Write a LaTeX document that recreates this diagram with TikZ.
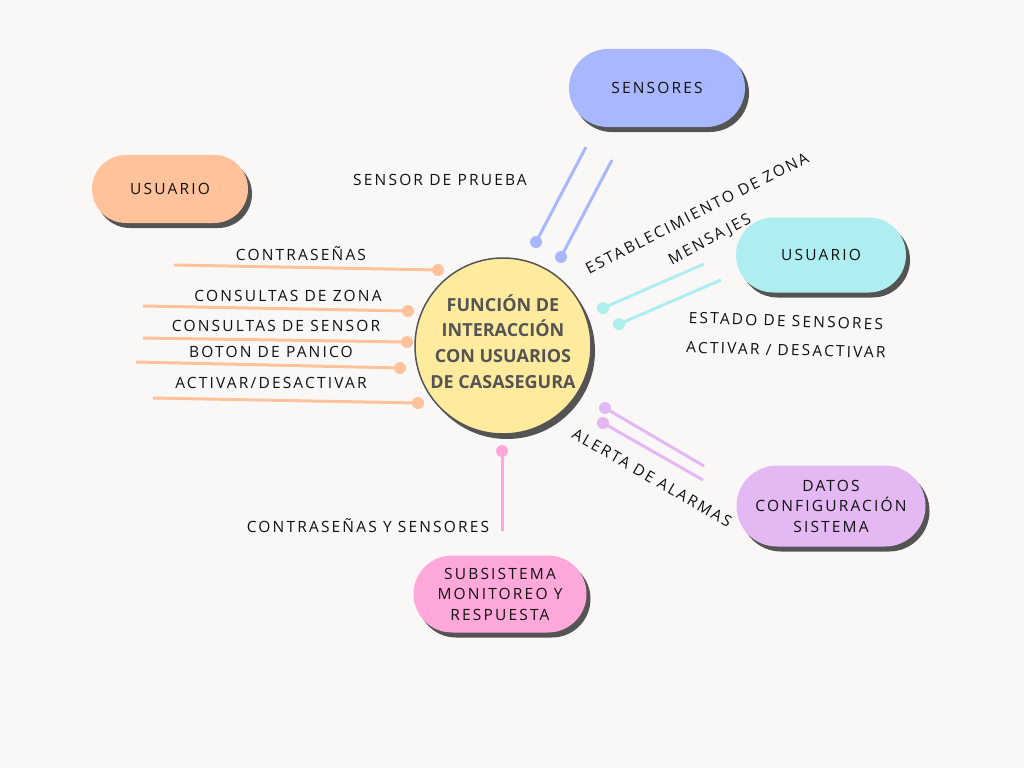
\documentclass[tikz,border=0pt]{standalone}
\usepackage{fontspec}
\setmainfont{Open Sans}
\newfontfamily\lblfont[LetterSpace=14]{Open Sans}
\usetikzlibrary{positioning,shapes.misc,shadows}

\definecolor{paper}{HTML}{FAF8F6}
\definecolor{usrorange}{HTML}{FFC29A}
\definecolor{sensblue}{HTML}{A9B8FE}
\definecolor{usrcyan}{HTML}{AFEEF0}
\definecolor{datpurple}{HTML}{E3B8F3}
\definecolor{subpink}{HTML}{FFA8D9}
\definecolor{funcyellow}{HTML}{FFEB9E}
\definecolor{shade}{HTML}{545454}
\definecolor{hubtext}{HTML}{545454}
\definecolor{lbltext}{HTML}{111111}

\begin{document}
\begin{tikzpicture}[x=1pt,y=-1pt,
    pill/.style={rounded rectangle, inner sep=0pt, align=center, text=lbltext,
      font=\lblfont\fontsize{15.5}{20.5}\selectfont,
      drop shadow={shadow xshift=4pt, shadow yshift=-5pt, fill=shade, opacity=1}},
    hub/.style={circle, draw=shade, line width=1.5pt, fill=funcyellow, minimum size=176pt,
      inner sep=0pt,
      drop shadow={shadow xshift=4pt, shadow yshift=-5pt, fill=shade, opacity=1}},
    hubtxt/.style={inner sep=0pt, align=center, text=hubtext,
      font=\bfseries\fontsize{18}{25.7}\selectfont},
    dot/.style={circle, fill=#1, inner sep=0pt, minimum size=12pt},
    wire/.style={draw=#1, line width=3pt},
    lbl/.style={inner sep=0pt, text=lbltext, font=\lblfont\fontsize{15.5}{17}\selectfont}]

  % paper
  \fill[paper] (0,0) rectangle (1024,768);
  \useasboundingbox (0,0) rectangle (1024,768);

  % the central function
  \node[hub] (hub) at (503,346) {};
  \node[hubtxt, yshift=4.5pt] (hubname) at (hub.center) {FUNCIÓN DE\\INTERACCIÓN\\CON USUARIOS\\DE CASASEGURA};

  % the outside entities
  \node[pill, fill=usrorange, minimum width=156pt, minimum height=68pt] (usrleft) at (170,189) {USUARIO};
  \node[pill, fill=sensblue, minimum width=176pt, minimum height=78pt] (sensors) at (657,88) {SENSORES};
  \node[pill, fill=usrcyan, minimum width=170pt, minimum height=75pt] (usrright) at (821,255) {USUARIO};
  \node[pill, fill=datpurple, minimum width=189pt, minimum height=81pt] (config) at (831,506) {DATOS\\CONFIGURACIÓN\\SISTEMA};
  \node[pill, fill=subpink, minimum width=173pt, minimum height=77pt] (monitor) at (500,594) {SUBSISTEMA\\MONITOREO Y\\RESPUESTA};

  % flows from the user on the left
  \foreach \i/\xa/\ya/\xb/\yb/\xl/\yl/\txt in {
      1/174/265/438/270/301/254/CONTRASEÑAS,
      2/143/306/408/311/288/296/CONSULTAS DE ZONA,
      3/143/338/407/342/276/326/CONSULTAS DE SENSOR,
      4/136/362/400/368/271/352/BOTON DE PANICO,
      5/153/398/418/403/271/383/{ACTIVAR/DESACTIVAR}}{
    \coordinate (lfree\i) at (\xa,\ya);
    \node[dot=usrorange] (ldot\i) at (\xb,\yb) {};
    \draw[wire=usrorange] (lfree\i) -- (ldot\i.center);
    \node[lbl] (llbl\i) at (\xl,\yl) {\txt};
  }

  % flows from the sensors
  \coordinate (sfree1) at (586,147);
  \coordinate (sfree2) at (612,160);
  \node[dot=sensblue] (sdot1) at (536,242) {};
  \node[dot=sensblue] (sdot2) at (561,257) {};
  \draw[wire=sensblue] (sfree1) -- (sdot1.center);
  \draw[wire=sensblue] (sfree2) -- (sdot2.center);
  \node[lbl] (slbl) at (440,180) {SENSOR DE PRUEBA};

  % flows with the user on the right
  \coordinate (rfree1) at (704,264);
  \coordinate (rfree2) at (721,280);
  \node[dot=usrcyan] (rdot1) at (603,308) {};
  \node[dot=usrcyan] (rdot2) at (619,324) {};
  \draw[wire=usrcyan] (rfree1) -- (rdot1.center);
  \draw[wire=usrcyan] (rfree2) -- (rdot2.center);
  \node[lbl, rotate=27] (rlbl1) at (697,213) {ESTABLECIMIENTO DE ZONA};
  \node[lbl, rotate=28] (rlbl2) at (710,240) {MENSAJES};
  \node[lbl, rotate=-2] (rlbl3) at (786,321) {ESTADO DE SENSORES};
  \node[lbl, rotate=-1.5] (rlbl4) at (786,350) {ACTIVAR / DESACTIVAR};

  % flows with the configuration
  \coordinate (cfree1) at (704,466);
  \coordinate (cfree2) at (703,480);
  \node[dot=datpurple] (cdot1) at (605,408) {};
  \node[dot=datpurple] (cdot2) at (603,423) {};
  \draw[wire=datpurple] (cfree1) -- (cdot1.center);
  \draw[wire=datpurple] (cfree2) -- (cdot2.center);
  \node[lbl, rotate=-30] (clbl) at (652,478) {ALERTA DE ALARMAS};

  % flow to the monitoring
  \coordinate (mfree) at (502,531);
  \node[dot=subpink] (mdot) at (502,451) {};
  \draw[wire=subpink] (mfree) -- (mdot.center);
  \node[lbl] (mlbl) at (368,526) {CONTRASEÑAS Y SENSORES};
\end{tikzpicture}
\end{document}
